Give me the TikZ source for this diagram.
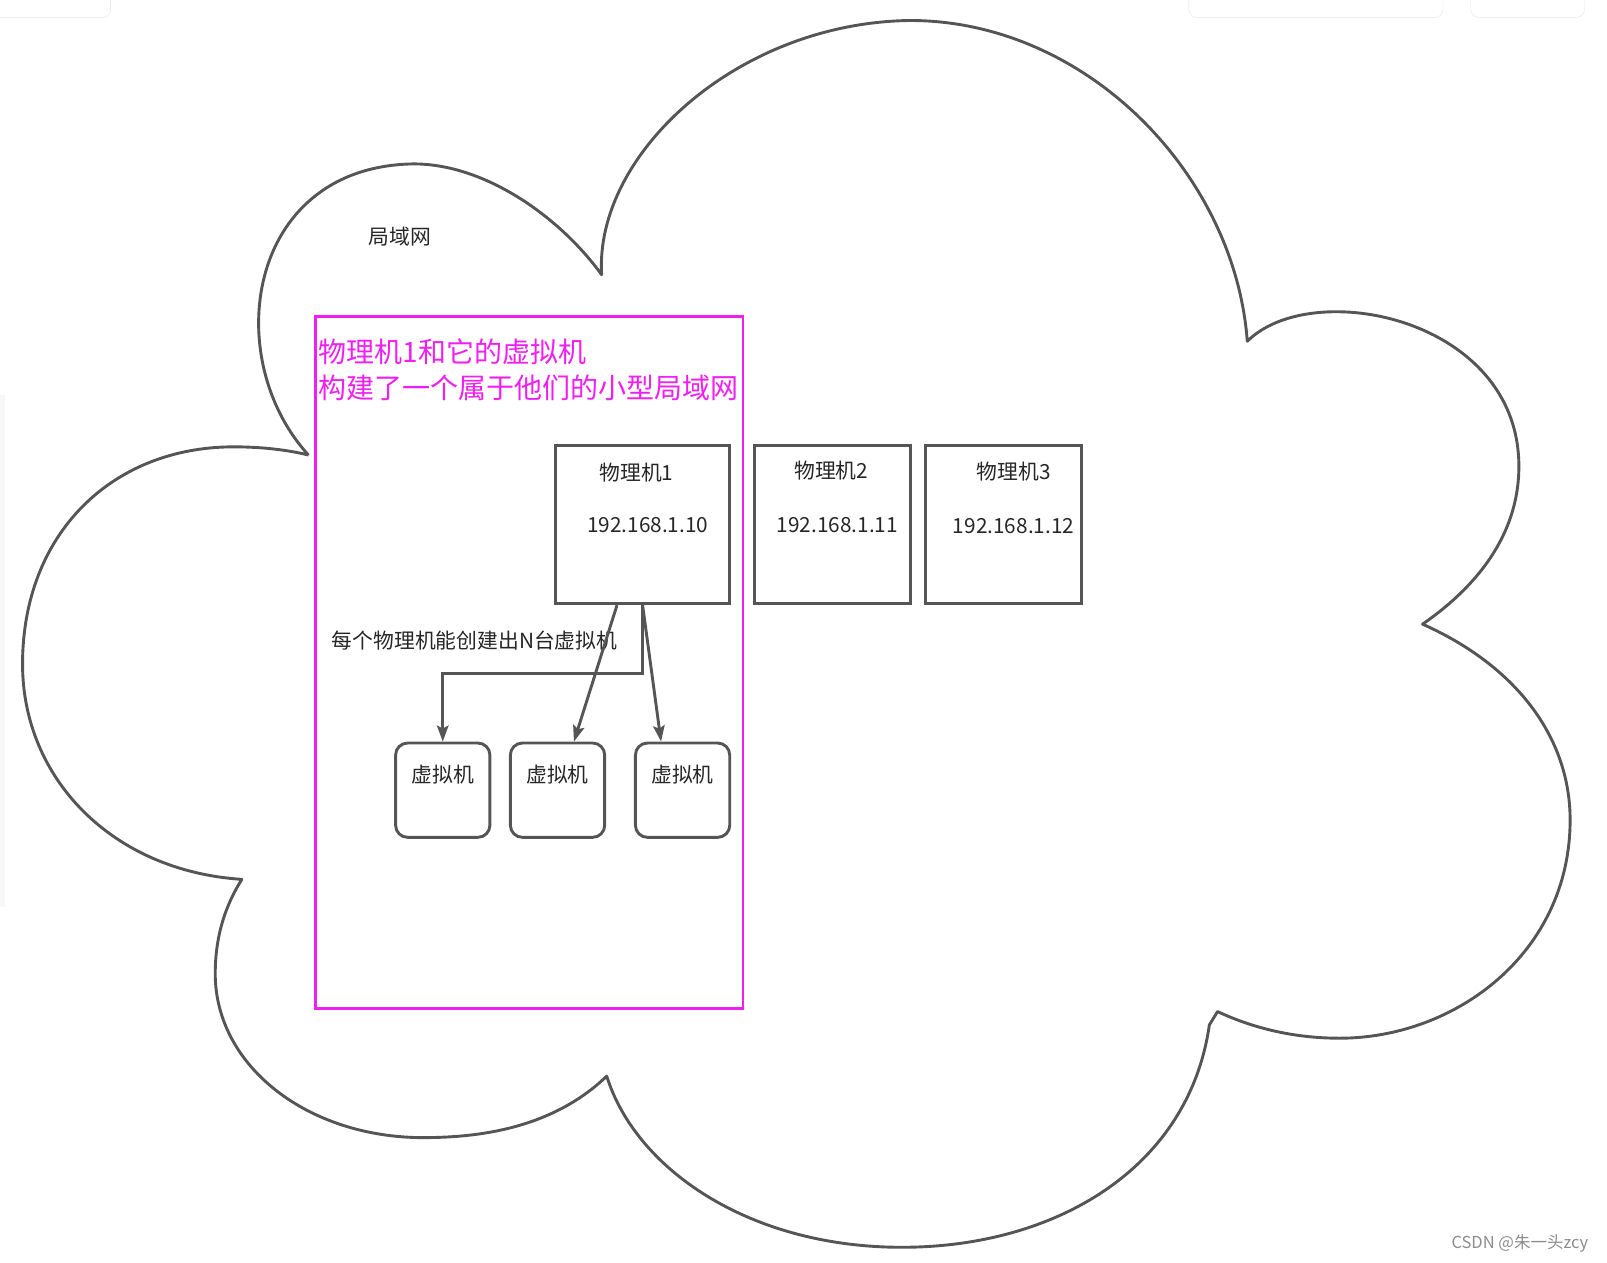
\documentclass[tikz,border=0pt]{standalone}
\usepackage{fontspec}
\setmainfont{Noto Sans CJK SC}
\usetikzlibrary{calc,positioning,arrows.meta}
\definecolor{linegrey}{RGB}{85,85,85}
\definecolor{pinkline}{RGB}{240,30,240}

\begin{document}
\begin{tikzpicture}[x=1.0249pt,y=-1.0249pt,inner sep=0pt,
  pmbox/.style={draw=linegrey,line width=3.2pt,minimum height=157.8pt},
  vmbox/.style={draw=linegrey,line width=2.9pt,rounded corners=12pt,
    minimum width=94.3pt,minimum height=94.3pt},
  txt/.style={text=black!85,font=\fontsize{20.8pt}{24pt}\selectfont},
  arr/.style={draw=linegrey,line width=2.9pt,
    -{Stealth[length=16pt,width=11.5pt,inset=3pt]}}]

\useasboundingbox (0,0) rectangle (1568,1232);

% bits of the screen round the drawing
\draw[black!10,fill=white,rounded corners=8pt] (-20,-20) rectangle (108,17);
\draw[black!10,fill=white,rounded corners=8pt] (1160,-20) rectangle (1408,17);
\draw[black!10,fill=white,rounded corners=8pt] (1435,-20) rectangle (1546,17);
\fill[black!3] (0,385) rectangle (5,885);

% the LAN cloud
\draw[linegrey,line width=2.9pt,line join=round]
  (301,444) .. controls (215,350) and (240,165) .. (400,160)
  .. controls (470,158) and (545,210) .. (587,268)
  .. controls (580,150) and (720,22) .. (888,20)
  .. controls (1060,20) and (1205,170) .. (1217,333)
  .. controls (1280,270) and (1482,310) .. (1482,455)
  .. controls (1482,530) and (1430,580) .. (1388,609)
  .. controls (1480,650) and (1532,720) .. (1532,800)
  .. controls (1532,930) and (1420,1013) .. (1307,1013)
  .. controls (1260,1013) and (1220,1002) .. (1188,987)
  -- (1180,1000)
  .. controls (1160,1140) and (1030,1217) .. (880,1217)
  .. controls (730,1217) and (620,1140) .. (592,1050)
  .. controls (540,1100) and (470,1110) .. (413,1110)
  .. controls (300,1110) and (210,1040) .. (210,950)
  .. controls (210,910) and (222,880) .. (236,858)
  .. controls (110,850) and (22,760) .. (22,648)
  .. controls (22,520) and (110,436) .. (228,436)
  .. controls (260,436) and (285,440) .. (301,444);

\node[txt] (lan) at (390,231) {局域网};

% physical machine 1 and its VMs
\node[draw=pinkline,line width=2.8pt,minimum width=427.4pt,
  minimum height=691.8pt] (group) at (516.5,646.5) {};
\node[text=pinkline,font=\fontsize{28pt}{36.4pt}\selectfont,align=left,
  anchor=west] (grouptitle) at (311,361)
  {物理机1和它的虚拟机\\构建了一个属于他们的小型局域网};

\node[pmbox,minimum width=174.2pt] (pm1) at (627,512) {};
\node[txt] (pm1name) at (621,461) {物理机1};
\node[txt] (pm1ip) at (632,512) {192.168.1.10};

\node[pmbox,minimum width=155.8pt] (pm2) at (812,512) {};
\node[txt] (pm2name) at (811,459) {物理机2};
\node[txt] (pm2ip) at (817,512) {192.168.1.11};

\node[pmbox,minimum width=155.8pt] (pm3) at (979,512) {};
\node[txt] (pm3name) at (989,460) {物理机3};
\node[txt] (pm3ip) at (989,513) {192.168.1.12};

\node[txt] (note) at (463,625) {每个物理机能创建出N台虚拟机};

\node[vmbox] (vm1) at (432,771) {};
\node[txt] (vm1name) at (432,756) {虚拟机};
\node[vmbox] (vm2) at (544,771) {};
\node[txt] (vm2name) at (544,756) {虚拟机};
\node[vmbox] (vm3) at (666,771) {};
\node[txt] (vm3name) at (666,756) {虚拟机};

\draw[arr] (pm1.south) |- ($(pm1.south)!0.5!(vm1.north)$) -| (vm1.north);
\draw[arr] ($(pm1.south)+(-25,0)$) -- ($(vm2.north)+(16,0)$);
\draw[arr] (pm1.south) -- ($(vm3.north)+(-21,0)$);

\node[text=black!45,font=\fontsize{16.5pt}{19pt}\selectfont] (mark)
  at (1483,1213) {CSDN @朱一头zcy};

\end{tikzpicture}
\end{document}
